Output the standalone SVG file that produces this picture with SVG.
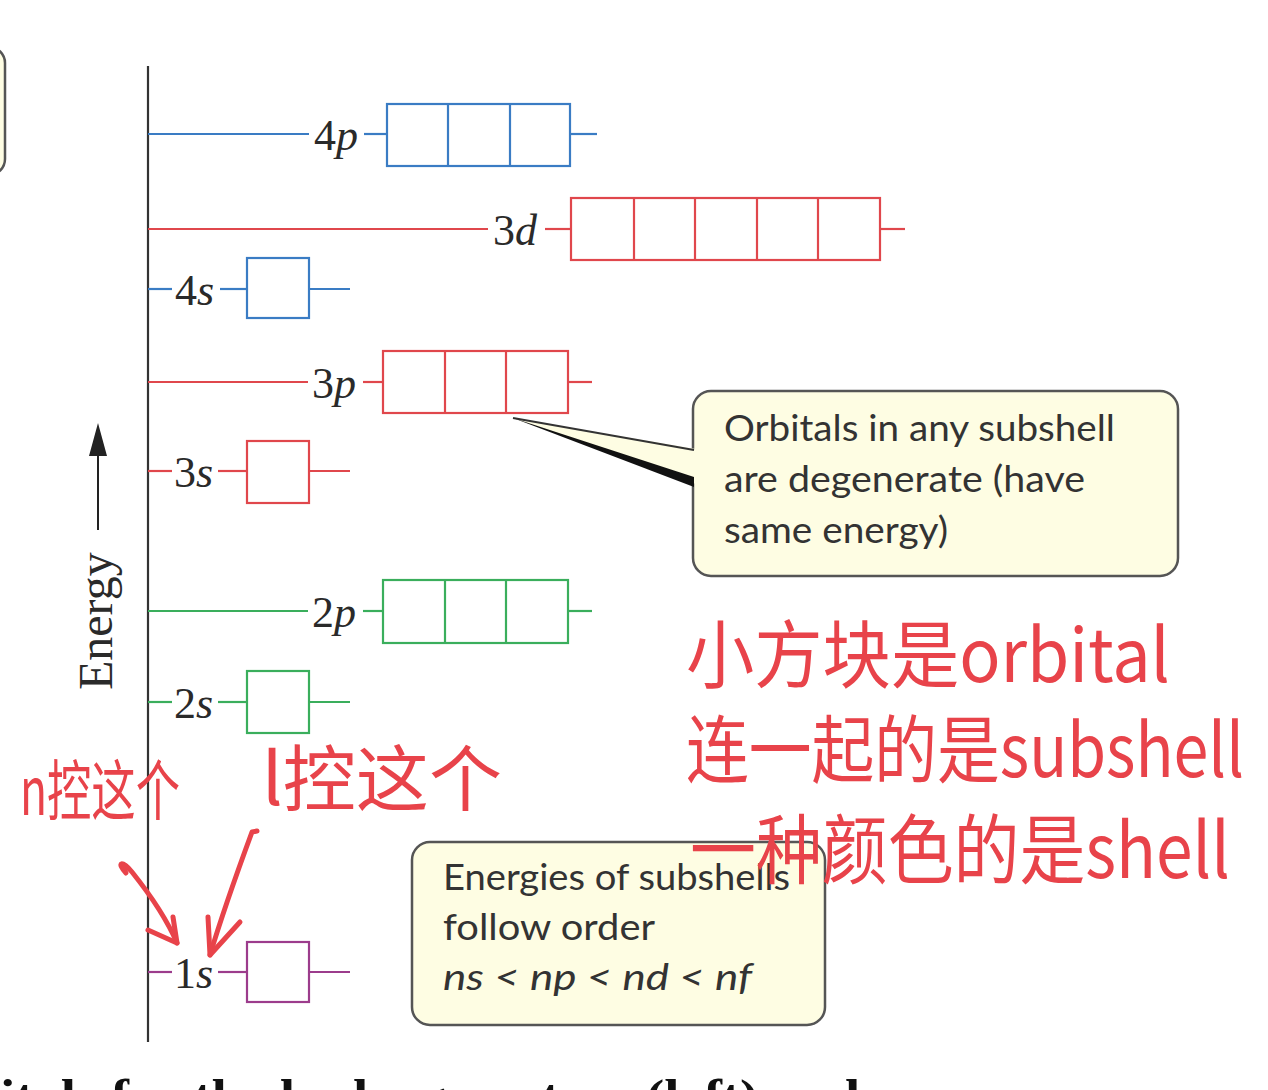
<svg xmlns="http://www.w3.org/2000/svg" width="1268" height="1090" viewBox="0 0 1268 1090">
<style>
.lbl{font-family:"Liberation Serif",serif;font-size:44px;fill:#2a2a2a}
.it{font-style:italic}
.blue{stroke:#3a7cc4}
.red{stroke:#e0474c}
.green{stroke:#3aae5c}
.purple{stroke:#9c3c8c}
.lv line,.lv rect,.lv path{fill:none;stroke-width:2.2}
.lv rect{fill:#fff}
.callout{fill:#fefde3;stroke:#555;stroke-width:2.5}
.ct{font-family:"Lato","Open Sans",sans-serif;font-size:37px;fill:#333}
.hw{font-family:"Noto Sans CJK SC","Noto Sans",sans-serif;fill:#e8434a}
.hwl{fill:none;stroke:#e8434a;stroke-width:5;stroke-linecap:round;stroke-linejoin:round}
</style>
<rect width="1268" height="1090" fill="#fff"/>

<!-- partial callout at top-left -->
<rect x="-40" y="47" width="45" height="128" rx="16" class="callout"/>

<!-- axis -->
<g id="axis">
<line x1="148" y1="66" x2="148" y2="1042" stroke="#333" stroke-width="2.2"/>
<line x1="98" y1="530" x2="98" y2="450" stroke="#222" stroke-width="2"/>
<polygon points="98,423 89,456 107,456" fill="#222"/>
<text transform="translate(112,690) rotate(-90)" font-family="Liberation Serif,serif" font-size="48" fill="#2a2a2a">Energy</text>
</g>

<g id="connectors">
<g class="lv blue"><line x1="148" y1="134" x2="309" y2="134"/><line x1="364" y1="134" x2="387" y2="134"/><line x1="570" y1="134" x2="597" y2="134"/></g>
<g class="lv red"><line x1="148" y1="229" x2="488" y2="229"/><line x1="545" y1="229" x2="571" y2="229"/><line x1="880" y1="229" x2="905" y2="229"/></g>
<g class="lv blue"><line x1="148" y1="289" x2="172" y2="289"/><line x1="220" y1="289" x2="247" y2="289"/><line x1="309" y1="289" x2="350" y2="289"/></g>
<g class="lv red"><line x1="148" y1="382" x2="308" y2="382"/><line x1="363" y1="382" x2="383" y2="382"/><line x1="568" y1="382" x2="592" y2="382"/></g>
<g class="lv red"><line x1="148" y1="471" x2="172" y2="471"/><line x1="218" y1="471" x2="247" y2="471"/><line x1="309" y1="471" x2="350" y2="471"/></g>
<g class="lv green"><line x1="148" y1="611" x2="308" y2="611"/><line x1="363" y1="611" x2="383" y2="611"/><line x1="568" y1="611" x2="592" y2="611"/></g>
<g class="lv green"><line x1="148" y1="702" x2="172" y2="702"/><line x1="218" y1="702" x2="247" y2="702"/><line x1="309" y1="702" x2="350" y2="702"/></g>
<g class="lv purple"><line x1="148" y1="972" x2="172" y2="972"/><line x1="218" y1="972" x2="247" y2="972"/><line x1="309" y1="972" x2="350" y2="972"/></g>
</g>

<g id="node-4p" class="lv blue">
<rect x="387" y="104" width="183" height="62"/><line x1="448" y1="104" x2="448" y2="166"/><line x1="510" y1="104" x2="510" y2="166"/>
<text class="lbl" x="314" y="150" stroke="none">4<tspan class="it">p</tspan></text>
</g>
<g id="node-3d" class="lv red">
<rect x="571" y="198" width="309" height="62"/><line x1="634" y1="198" x2="634" y2="260"/><line x1="695" y1="198" x2="695" y2="260"/><line x1="757" y1="198" x2="757" y2="260"/><line x1="818" y1="198" x2="818" y2="260"/>
<text class="lbl" x="493" y="245" stroke="none">3<tspan class="it">d</tspan></text>
</g>
<g id="node-4s" class="lv blue">
<rect x="247" y="258" width="62" height="60"/>
<text class="lbl" x="175" y="305" stroke="none">4<tspan class="it">s</tspan></text>
</g>
<g id="node-3p" class="lv red">
<rect x="383" y="351" width="185" height="62"/><line x1="445" y1="351" x2="445" y2="413"/><line x1="506" y1="351" x2="506" y2="413"/>
<text class="lbl" x="312" y="398" stroke="none">3<tspan class="it">p</tspan></text>
</g>
<g id="node-3s" class="lv red">
<rect x="247" y="441" width="62" height="62"/>
<text class="lbl" x="174" y="487" stroke="none">3<tspan class="it">s</tspan></text>
</g>
<g id="node-2p" class="lv green">
<rect x="383" y="580" width="185" height="63"/><line x1="445" y1="580" x2="445" y2="643"/><line x1="506" y1="580" x2="506" y2="643"/>
<text class="lbl" x="312" y="627" stroke="none">2<tspan class="it">p</tspan></text>
</g>
<g id="node-2s" class="lv green">
<rect x="247" y="671" width="62" height="62"/>
<text class="lbl" x="174" y="718" stroke="none">2<tspan class="it">s</tspan></text>
</g>
<g id="node-1s" class="lv purple">
<rect x="247" y="942" width="62" height="60"/>
<text class="lbl" x="174" y="988" stroke="none">1<tspan class="it">s</tspan></text>
</g>

<!-- callout 1 -->
<g id="callout-degenerate">
<rect x="693" y="391" width="485" height="185" rx="18" class="callout"/>
<polygon points="513,418 696,449 696,484" fill="#fefde3"/>
<line x1="513" y1="418" x2="694" y2="450" stroke="#333" stroke-width="2"/>
<polygon points="513,418 694,477 694,487" fill="#111"/>
<text class="ct" x="724" y="441" textLength="391" lengthAdjust="spacingAndGlyphs">Orbitals in any subshell</text>
<text class="ct" x="724" y="492" textLength="361" lengthAdjust="spacingAndGlyphs">are degenerate (have</text>
<text class="ct" x="724" y="543" textLength="224" lengthAdjust="spacingAndGlyphs">same energy)</text>
</g>

<!-- callout 2 -->
<g id="callout-order">
<rect x="412" y="842" width="413" height="183" rx="18" class="callout"/>
<text class="ct" x="443" y="890" textLength="347" lengthAdjust="spacingAndGlyphs">Energies of subshells</text>
<text class="ct" x="443" y="940" textLength="212" lengthAdjust="spacingAndGlyphs">follow order</text>
<text class="ct" x="443" y="990" font-style="italic" textLength="309" lengthAdjust="spacingAndGlyphs">ns &lt; np &lt; nd &lt; nf</text>
</g>

<!-- bottom cut caption -->
<text x="0" y="1113" font-family="Liberation Serif,serif" font-size="48" font-weight="bold" fill="#111" textLength="860" lengthAdjust="spacingAndGlyphs">itals for the hydrogen atom (left) and</text>

<!-- handwritten annotations -->
<g id="handwriting">
<text class="hw" x="686" y="682" font-size="74" textLength="484" lengthAdjust="spacingAndGlyphs">小方块是orbital</text>
<text class="hw" x="686" y="777" font-size="74" textLength="558" lengthAdjust="spacingAndGlyphs">连一起的是subshell</text>
<text class="hw" x="690" y="878" font-size="76" textLength="540" lengthAdjust="spacingAndGlyphs">一种颜色的是shell</text>
<text class="hw" x="20" y="815" font-size="66" textLength="160" lengthAdjust="spacingAndGlyphs">n控这个</text>
<text class="hw" x="262" y="805" font-size="72" textLength="240" lengthAdjust="spacingAndGlyphs">l控这个</text>
<path class="hwl" d="M126,873 C116,862 122,860 132,872 C148,892 165,915 177,943"/>
<path class="hwl" d="M148,930 L177,943 L173,917"/>
<path class="hwl" d="M257,831 L252,832 C238,870 222,915 210,955"/>
<path class="hwl" d="M208,917 L210,955 L240,922"/>
</g>
</svg>
